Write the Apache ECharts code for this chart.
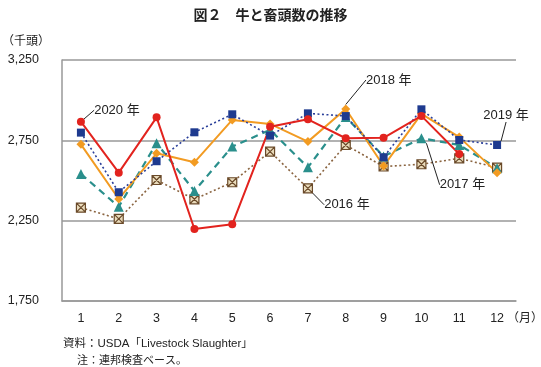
<!DOCTYPE html>
<html><head><meta charset="utf-8">
<script src="https://cdn.jsdelivr.net/npm/echarts@6/dist/echarts.min.js"></script>
<style>html,body{margin:0;padding:0;background:#fff}#c{width:541px;height:367px}</style>
</head><body><div id="c"></div>
<script>
const months = ['1','2','3','4','5','6','7','8','9','10','11','12'];
const y2016 = [2331, 2261, 2503, 2383, 2489, 2680, 2451, 2721, 2587, 2601, 2638, 2580];
const y2017 = [2541, 2337, 2732, 2435, 2711, 2815, 2582, 2895, 2650, 2763, 2721, 2577];
const y2018 = [2725, 2385, 2669, 2613, 2877, 2852, 2742, 2945, 2590, 2915, 2770, 2549];
const y2019 = [2798, 2427, 2620, 2800, 2912, 2779, 2918, 2901, 2645, 2943, 2752, 2721];
const y2020 = [2866, 2549, 2893, 2198, 2227, 2835, 2881, 2763, 2766, 2902, 2665, null];
const yTicks = [1750, 2250, 2750, 3250];

const FONT = "'Liberation Sans','Noto Sans CJK JP',sans-serif";
const JFONT = "'Noto Sans CJK JP','Liberation Sans',sans-serif";

function withLabel(arr, idx, text) {
  return arr.map((v, i) => i === idx ? {value: v, label: {show: true, formatter: text}} : v);
}
function mk(name, data, color, lw, type, symbol, size, labelIdx, labelText, dx, dy, extra) {
  return Object.assign({
    name, type: 'line', data: withLabel(data, labelIdx, labelText),
    symbol, symbolSize: size, showAllSymbol: true,
    lineStyle: {color, width: lw, type},
    itemStyle: {color},
    label: {show: false, color: '#222', fontSize: 13, fontFamily: FONT, position: 'top'},
    labelLine: {show: true, lineStyle: {color: '#222', width: 1}},
    labelLayout: (p) => p.dataIndex === labelIdx ? {dx, dy} : {},
    emphasis: {disabled: true},
    connectNulls: false
  }, extra || {});
}
const boxX = 'path://M0,0 L10,0 L10,10 L0,10 Z M0,0 L10,10 M10,0 L0,10';

const chart = echarts.init(document.getElementById('c'), null, {renderer: 'canvas'});
chart.setOption({
  animation: false,
  title: {text: '図２　牛と畜頭数の推移', left: 'center', top: 3,
    textStyle: {fontSize: 14, fontWeight: 'bold', color: '#222', fontFamily: JFONT}},
  grid: {left: 62, right: 25, top: 60, bottom: 66},
  xAxis: {type: 'category', data: months, boundaryGap: true,
    axisLine: {show: true, lineStyle: {color: '#999', width: 1.5}},
    axisTick: {show: false},
    axisLabel: {color: '#222', fontSize: 12.5, fontFamily: FONT, margin: 11}},
  yAxis: {type: 'value', min: 1750, max: 3250, interval: 250,
    axisLine: {show: true, lineStyle: {color: '#999', width: 1.5}},
    axisTick: {show: false},
    splitLine: {show: true, lineStyle: {color: ['#999', 'rgba(0,0,0,0)'], width: 1.5}},
    axisLabel: {color: '#222', fontSize: 12.5, fontFamily: FONT, margin: 23,
      formatter: v => yTicks.includes(v) ? echarts.format.addCommas(v) : ''}},
  graphic: [
    {type: 'text', left: 2, top: 34, style: {text: '（千頭）', fill: '#222', font: '12px ' + JFONT}},
    {type: 'text', left: 507, top: 311, style: {text: '（月）', fill: '#222', font: '12px ' + JFONT}},
    {type: 'text', left: 63, top: 338, style: {text: '資料：USDA「Livestock Slaughter」', fill: '#222', font: '11.5px ' + FONT}},
    {type: 'text', left: 77, top: 354, style: {text: '注：連邦検査ベース。', fill: '#222', font: '11px ' + JFONT}}
  ],
  series: [
    mk('2016', y2016, '#8a6440', 1.6, [2, 2.5], boxX, 9, 6, '2016 年', 39, 33,
      {itemStyle: {color: '#eadcbc', borderColor: '#6a4a2a', borderWidth: 1.2}}),
    mk('2017', y2017, '#2a8f8c', 2.2, [7, 5], 'triangle', 10, 9, '2017 年', 41, 63),
    mk('2018', y2018, '#f29b22', 2, 'solid', 'diamond', 9, 7, '2018 年', 43, -13),
    mk('2019', y2019, '#2a3f9a', 1.6, [2, 2.5], 'rect', 8, 11, '2019 年', 9, -14,
      {itemStyle: {color: '#1e3a8f'}}),
    mk('2020', y2020, '#e2231e', 2, 'solid', 'circle', 8, 0, '2020 年', 36, 4)
  ]
});
</script></body></html>
